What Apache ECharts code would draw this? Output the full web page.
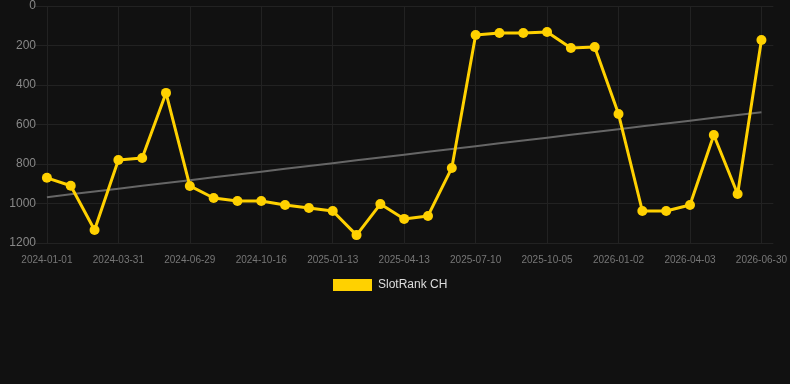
<!DOCTYPE html>
<html>
<head>
<meta charset="utf-8">
<title>SlotRank CH</title>
<script src="https://cdn.jsdelivr.net/npm/echarts@6/dist/echarts.min.js"></script>
<style>
  html, body { margin: 0; padding: 0; background: #111111; }
  #chart { width: 790px; height: 384px; }
</style>
</head>
<body>
<div id="chart"></div>
<script>
// dates (category axis), every third one is labelled
var dates = [
  '2024-01-01', '2024-01-31', '2024-03-01', '2024-03-31', '2024-04-30', '2024-05-30',
  '2024-06-29', '2024-08-05', '2024-09-10', '2024-10-16', '2024-11-15', '2024-12-14',
  '2025-01-13', '2025-02-12', '2025-03-14', '2025-04-13', '2025-05-12', '2025-06-10',
  '2025-07-10', '2025-08-08', '2025-09-06', '2025-10-05', '2025-11-03', '2025-12-03',
  '2026-01-02', '2026-02-01', '2026-03-04', '2026-04-03', '2026-05-02', '2026-05-31',
  '2026-06-30'
];
// rank values
var ranks = [
  870, 910, 1134, 780, 770, 440,
  911, 972, 987, 987, 1008, 1023,
  1038, 1160, 1003, 1078, 1063, 820,
  147, 137, 137, 132, 213, 208,
  547, 1038, 1038, 1008, 653, 952,
  172
];
var seriesName = 'SlotRank CH';

// least squares trend over the ranks
function trendLine(vals) {
  var n = vals.length, sx = 0, sy = 0, sxy = 0, sxx = 0;
  for (var i = 0; i < n; i++) {
    sx += i; sy += vals[i]; sxy += i * vals[i]; sxx += i * i;
  }
  var b = (n * sxy - sx * sy) / (n * sxx - sx * sx);
  var a = (sy - b * sx) / n;
  var out = [];
  for (var j = 0; j < n; j++) out.push(a + b * j);
  return out;
}
var trend = trendLine(ranks);

var chart = echarts.init(document.getElementById('chart'));
chart.setOption({
  backgroundColor: '#111111',
  animation: false,
  grid: { left: 35, right: 16, top: 6, bottom: 141 },
  legend: {
    bottom: 88,
    left: 328,
    itemWidth: 39,
    itemHeight: 12,
    itemGap: 10,
    icon: 'rect',
    textStyle: { color: '#dddddd', fontSize: 12, fontFamily: 'Arial, Liberation Sans, sans-serif', padding: [0, 0, 0, 1] },
    data: [seriesName]
  },
  xAxis: {
    type: 'category',
    data: dates,
    boundaryGap: true,
    axisLine: { show: false },
    axisTick: { show: false, alignWithLabel: true, interval: 2 },
    axisLabel: {
      interval: 2,
      color: '#777777',
      fontSize: 10,
      margin: 12,
      fontFamily: 'Arial, Liberation Sans, sans-serif'
    },
    splitLine: {
      show: true,
      interval: 2,
      alignWithLabel: true,
      lineStyle: { color: '#222222', width: 1 }
    }
  },
  yAxis: {
    type: 'value',
    inverse: true,
    min: 0,
    max: 1200,
    interval: 200,
    axisLine: { show: false },
    axisTick: { show: false },
    axisLabel: {
      color: '#888888',
      fontSize: 12,
      margin: -1,
      formatter: function (v) { return String(v); },
      fontFamily: 'Arial, Liberation Sans, sans-serif'
    },
    splitLine: { lineStyle: { color: '#222222', width: 1 } }
  },
  series: [
    {
      name: seriesName,
      type: 'line',
      data: ranks,
      symbol: 'circle',
      symbolSize: 10,
      itemStyle: { color: '#FFD100' },
      lineStyle: { color: '#FFD100', width: 3 },
      z: 3
    },
    {
      name: 'trend',
      type: 'line',
      data: trend,
      symbol: 'none',
      silent: true,
      lineStyle: { color: '#666666', width: 2 },
      z: 2
    }
  ]
});
</script>
</body>
</html>
